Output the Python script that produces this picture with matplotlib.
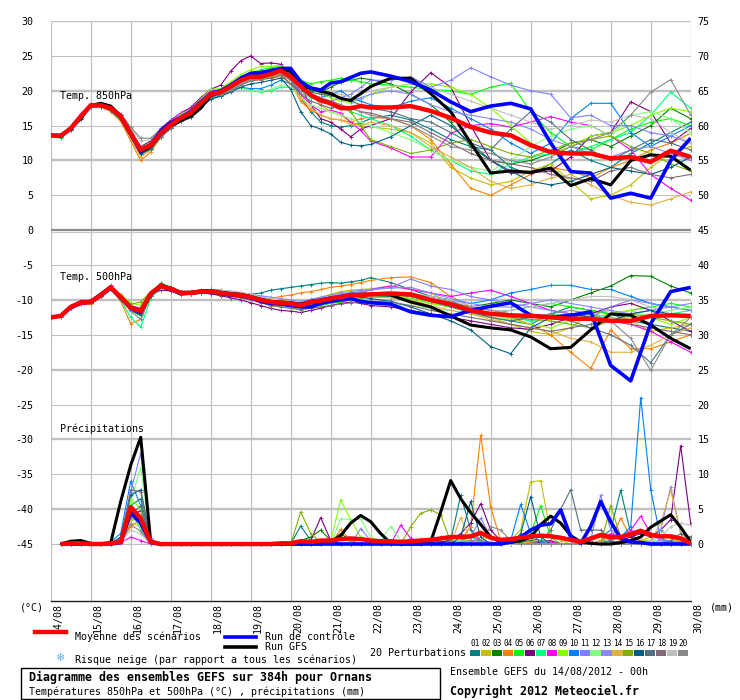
### GEFS ensemble diagram (Meteociel style) for Ornans
import numpy as np
import matplotlib
matplotlib.use("Agg")
import matplotlib.pyplot as plt
from matplotlib.lines import Line2D
from matplotlib.patches import Rectangle
from matplotlib.transforms import ScaledTranslation

### time axis: hours after 14/08 00h
hours_temp = list(range(0, 193, 6)) + list(range(204, 385, 12))
hours_rain = list(range(6, 385, 6))
day_hours = list(range(0, 385, 24))
day_labels = ["14/08", "15/08", "16/08", "17/08", "18/08", "19/08", "20/08", "21/08", "22/08",
              "23/08", "24/08", "25/08", "26/08", "27/08", "28/08", "29/08", "30/08"]
left_ticks = list(range(-45, 31, 5))
right_ticks = list(range(0, 76, 5))
RAIN_OFFSET = 45  # precipitation (mm) drawn on right axis = left axis + 45

pert_colors = ["#008080", "#c0c000", "#008000", "#ff8000", "#00ff00", "#800080", "#00ff80",
               "#ff00ff", "#80ff00", "#0080ff", "#8080ff", "#80ff80", "#8888ff", "#e0b040",
               "#80b000", "#006080", "#507080", "#806878", "#c0c0c0", "#888888"]
pert_names = ["01", "02", "03", "04", "05", "06", "07", "08", "09", "10",
              "11", "12", "13", "14", "15", "16", "17", "18", "19", "20"]

### temperature 850hPa
t850_mean = [13.6,13.5,14.6,16.3,17.9,17.9,17.5,16.3,13.9,11.5,12.2,13.9,15.1,16.1,16.8,18.2,19.5,
             19.8,20.6,21.5,22.0,22.0,22.4,22.9,22.0, 20.6,19.4,18.6,18.2,17.5,17.5,17.8,17.6,
             17.6,17.8,17.1,16.1,14.8,14.0,13.6,12.2,11.2,11.0,11.0,10.3,10.5,9.8,11.4,10.5]
t850_ctrl = [13.6,13.6,14.5,16.2,17.9,18.0,17.5,16.2,13.8,11.3,12.3,14.2,15.4,16.2,17.0,18.4,19.6,
             20.0,20.8,21.8,22.5,22.6,22.9,23.2,23.2, 21.3,20.4,20.1,21.1,21.3,21.9,22.5,22.7,
             22.1,21.3,20.1,18.4,17.0,17.8,18.2,17.4,12.5,8.4,8.2,4.6,5.3,4.6,10.0,13.2]
t850_gfs = [13.6,13.6,14.6,16.0,17.9,18.2,17.8,16.4,14.0,11.2,12.0,13.8,15.0,15.7,16.3,17.5,19.3,
            19.8,20.6,21.5,22.3,22.6,22.8,23.0,22.8, 20.6,20.4,19.9,19.6,18.9,18.6,19.6,20.6,
            21.8,21.8,19.6,17.0,12.5,8.2,8.5,8.3,8.9,6.4,7.4,6.5,10.0,10.8,10.6,8.6]
t850_p01 = [13.6,13.4,14.4,16.0,17.7,17.8,17.3,16.0,13.5,11.0,11.8,13.6,14.8,15.8,16.5,17.8,19.0,
            19.4,20.2,21.0,21.5,21.8,22.0,22.4,21.5, 19.0,17.0,15.5,15.0,14.8,15.0,15.4,16.0,
            16.5,15.8,14.5,13.0,12.0,11.5,9.0,8.0,9.5,11.5,10.0,9.0,11.0,12.5,14.0,15.5]
t850_p02 = [13.6,13.6,14.7,16.4,18.0,18.0,17.6,16.4,14.0,11.7,12.5,14.2,15.4,16.4,17.1,18.5,19.8,
            20.0,20.8,21.6,22.2,22.4,22.6,23.0,22.0, 20.5,19.5,18.0,17.0,16.5,15.5,15.0,14.8,
            14.5,14.0,12.5,9.0,7.5,6.5,7.0,8.5,9.5,7.0,4.5,5.0,6.5,9.0,11.0,12.0]
t850_p03 = [13.6,13.5,14.5,16.2,17.8,17.9,17.4,16.2,13.8,11.3,12.0,13.8,15.0,16.0,16.7,18.1,19.4,
            19.8,20.5,21.4,22.0,22.3,22.8,23.2,22.6, 21.0,20.0,19.8,20.5,21.2,21.5,21.8,21.6,
            21.0,19.5,18.0,15.5,12.0,10.0,9.5,10.0,11.0,12.5,13.0,12.0,13.5,15.0,17.5,16.0]
t850_p04 = [13.6,13.5,14.6,16.2,17.9,17.7,17.0,15.6,12.8,10.0,11.2,13.3,14.6,15.7,16.4,17.8,19.2,
            19.5,20.3,21.2,21.8,21.8,22.0,22.4,21.0, 18.5,17.2,16.5,16.0,15.8,15.5,16.0,16.2,
            16.0,15.0,13.0,9.5,6.0,5.0,6.5,8.0,9.0,8.5,7.5,9.0,10.0,11.5,12.5,13.9]
t850_p05 = [13.6,13.2,14.5,16.3,17.8,17.9,17.6,16.5,14.2,11.8,12.4,14.1,15.3,16.3,17.0,18.6,20.0,
            20.2,21.0,22.0,22.5,23.0,23.3,23.6,22.5, 21.5,21.0,21.3,21.5,21.8,21.6,21.3,21.0,
            20.8,20.5,20.2,20.0,19.5,20.5,21.1,17.0,14.0,12.0,11.5,13.0,14.5,15.5,16.0,15.0]
t850_p06 = [13.6,13.6,14.8,16.6,18.0,18.1,17.7,16.6,14.3,12.0,12.8,14.6,15.8,16.8,17.6,19.0,20.2,
            20.8,22.8,24.3,25.0,23.9,24.0,23.8,22.5, 20.5,18.0,16.0,15.5,14.5,13.4,14.5,15.0,
            16.0,19.8,22.6,20.5,15.0,10.0,8.2,8.2,8.5,10.5,13.5,14.0,18.4,17.0,12.5,14.6]
t850_p07 = [13.6,13.4,14.5,16.1,17.7,17.7,17.2,15.9,13.4,11.0,11.6,13.4,14.6,15.6,16.3,17.6,18.9,
            19.4,20.0,20.5,20.0,19.8,20.0,20.5,20.5, 20.0,19.0,18.5,18.0,17.5,17.0,16.5,16.0,
            15.0,13.5,11.5,10.0,8.5,8.0,9.5,10.5,11.0,11.0,12.0,13.0,14.0,16.5,19.8,17.5]
t850_p08 = [13.6,13.6,14.8,16.7,18.1,18.0,17.6,16.4,13.9,11.3,12.3,14.4,15.7,16.8,17.4,18.8,20.0,
            20.0,21.0,21.8,22.4,22.5,22.5,22.8,21.8, 19.5,18.0,17.0,17.2,16.8,15.5,14.3,12.8,
            11.8,10.5,10.5,13.9,15.0,15.3,14.8,15.5,16.3,15.5,15.0,13.5,11.5,8.0,6.0,4.3]
t850_p09 = [13.6,13.5,14.7,16.5,18.0,17.9,17.5,16.3,14.0,11.8,12.6,14.3,15.6,16.6,17.3,18.8,20.2,
            20.3,21.3,22.3,23.0,23.5,23.5,23.6,22.8, 21.5,20.5,19.5,19.0,18.5,18.3,18.8,19.5,
            20.5,21.0,21.0,20.5,19.5,17.5,15.0,12.5,11.0,12.0,13.5,14.0,15.0,16.5,17.5,17.0]
t850_p10 = [13.6,13.5,14.5,16.2,17.8,17.8,17.3,16.0,13.6,11.2,11.8,13.5,14.7,15.6,16.3,17.6,18.8,
            19.3,20.0,20.5,20.3,20.3,20.8,21.5,21.0, 20.0,19.5,19.0,19.5,20.0,19.0,18.5,18.0,
            17.5,18.5,19.0,17.5,16.0,14.5,12.5,11.0,12.5,16.0,18.2,18.2,14.0,12.0,13.5,15.0]
t850_p11 = [13.6,13.5,14.6,16.4,17.9,17.9,17.5,16.3,14.0,11.6,12.3,14.0,15.2,16.2,16.9,18.3,19.6,
            19.8,20.6,21.6,22.0,22.2,22.6,23.0,22.0, 20.5,19.5,19.0,18.5,19.0,19.5,20.5,21.5,
            21.5,22.0,20.5,21.5,23.3,22.0,20.8,20.0,19.5,16.1,16.5,15.0,15.0,14.0,13.5,12.5]
t850_p12 = [13.6,13.4,14.5,16.2,17.8,17.8,17.4,16.2,13.7,11.2,11.9,13.6,14.8,15.8,16.5,17.8,19.0,
            19.5,20.0,20.4,20.0,19.9,20.2,20.8,20.5, 19.0,18.0,17.5,17.0,16.5,16.0,15.5,15.0,
            14.0,13.0,11.5,10.0,9.0,8.5,10.0,12.0,13.5,14.5,15.0,13.5,16.5,17.0,16.0,14.0]
t850_p13 = [13.6,13.6,14.7,16.5,18.0,18.0,17.6,16.5,14.2,11.9,12.5,14.2,15.4,16.4,17.1,18.5,19.8,
            20.0,20.8,21.5,22.0,22.3,22.8,23.2,22.4, 21.0,20.5,20.0,19.5,19.0,18.5,19.0,19.5,
            20.0,19.5,18.0,17.0,16.5,16.0,15.5,14.5,13.0,12.0,11.0,10.5,11.5,12.0,11.0,10.0]
t850_p14 = [13.6,13.5,14.5,16.2,17.8,17.7,17.2,15.8,13.2,10.5,11.5,13.5,14.8,15.8,16.5,17.9,19.2,
            19.6,20.3,21.0,21.5,21.6,21.8,22.0,21.0, 19.0,17.5,16.5,16.0,15.8,15.2,15.0,15.5,
            15.0,14.0,12.0,10.5,9.0,7.0,6.0,6.5,7.5,8.0,6.5,5.0,4.0,3.6,4.5,5.5]
t850_p15 = [13.6,13.5,14.6,16.3,17.9,17.9,17.5,16.4,14.1,11.9,12.4,14.0,15.2,16.2,16.9,18.3,19.7,
            20.0,20.8,21.6,22.2,22.5,22.8,23.2,22.5, 20.5,19.5,19.0,18.5,18.0,17.0,15.0,13.0,
            12.0,11.0,11.5,12.5,13.0,12.0,11.0,10.5,11.5,12.5,13.0,13.5,12.0,11.0,9.5,8.5]
t850_p16 = [13.6,13.4,14.4,16.0,17.7,17.7,17.2,15.9,13.4,10.9,11.6,13.4,14.6,15.6,16.3,17.6,18.8,
            19.2,19.8,20.5,21.0,21.2,21.5,21.8,20.2, 17.0,15.0,14.5,13.8,12.6,12.2,12.1,12.3,
            13.4,15.0,16.5,15.0,12.5,10.0,8.5,7.0,6.5,7.0,8.0,9.0,8.5,8.0,9.0,10.5]
t850_p17 = [13.6,13.5,14.6,16.3,17.9,17.9,17.5,16.3,14.0,11.8,12.4,14.0,15.2,16.2,16.8,18.2,19.6,
            19.8,20.6,21.4,22.0,22.2,22.4,22.8,22.0, 20.5,19.8,19.5,19.3,19.0,18.5,18.0,17.5,
            17.0,16.0,15.5,14.0,12.5,11.5,14.5,17.0,15.5,13.0,11.5,10.0,11.5,13.0,12.5,11.5]
t850_p18 = [13.6,13.5,14.5,16.1,17.8,17.8,17.3,16.2,14.0,11.6,11.8,13.3,14.6,15.6,16.4,17.8,19.1,
            19.4,20.0,20.8,21.4,21.6,21.8,22.2,21.0, 19.5,18.5,18.0,17.5,17.8,17.5,17.0,16.8,
            16.0,15.5,14.0,12.5,11.0,10.0,9.5,9.0,8.0,7.5,7.0,8.5,9.0,8.0,7.5,8.0]
t850_p19 = [13.6,13.6,14.7,16.4,17.9,18.0,17.6,16.6,14.6,12.8,13.0,14.4,15.5,16.4,17.0,18.4,19.7,
            19.9,20.5,21.2,21.8,22.0,22.4,22.8,22.2, 21.0,20.5,20.0,19.8,19.5,19.0,19.5,20.0,
            20.5,21.0,20.5,19.5,18.5,17.5,16.5,15.5,14.5,15.0,15.8,15.5,16.5,16.0,14.0,12.5]
t850_p20 = [13.6,13.5,14.6,16.3,17.8,17.9,17.6,16.7,14.8,13.2,13.2,14.5,15.4,16.3,17.0,18.3,19.6,
            19.5,20.3,21.0,21.6,21.8,22.2,22.5,21.5, 20.0,19.5,19.0,18.5,18.0,17.5,17.0,16.5,
            16.0,15.0,13.5,12.0,11.5,11.0,10.0,9.5,10.5,12.0,13.0,14.0,16.5,19.8,21.6,16.5]

### temperature 500hPa
t500_mean = [-12.5,-12.3,-11.0,-10.4,-10.3,-9.3,-8.2,-9.6,-11.1,-11.6,-9.1,-8.0,-8.4,-9.0,-9.0,-8.8,-8.8,
             -9.0,-9.2,-9.3,-9.6,-10.0,-10.3,-10.4,-10.5,-10.8,-10.3,-10.1,-9.8,-9.6,-9.3,-9.3,-9.2,
             -9.1,-9.2,-10.0,-10.6,-11.5,-12.0,-12.2,-12.3,-12.5,-12.7,-12.7,-13.0,-13.0,-12.3,-12.2,-12.3]
t500_ctrl = [-12.5,-12.3,-11.1,-10.5,-10.3,-9.4,-8.3,-9.7,-11.2,-11.8,-9.2,-8.0,-8.5,-9.1,-9.0,-8.9,-8.9,
             -9.1,-9.3,-9.4,-9.7,-10.2,-10.5,-10.6,-10.8,-11.0,-11.0,-10.5,-10.2,-10.0,-9.8,-10.2,-10.4,
             -10.6,-11.7,-12.2,-12.4,-11.5,-10.9,-10.4,-12.2,-12.5,-12.2,-11.7,-19.4,-21.6,-13.4,-8.8,-8.2]
t500_gfs = [-12.5,-12.3,-11.0,-10.3,-10.2,-9.2,-8.1,-9.5,-11.0,-11.5,-9.0,-7.9,-8.3,-8.9,-8.9,-8.7,-8.7,
            -8.9,-9.1,-9.2,-9.5,-9.9,-10.2,-10.3,-10.4,-10.6,-10.2,-10.0,-9.7,-9.5,-9.2,-9.2,-9.2,
            -9.3,-10.3,-11.0,-12.3,-13.6,-14.0,-14.3,-15.3,-17.0,-16.8,-14.3,-12.0,-12.2,-13.6,-15.5,-17.0]
t500_p01 = [-12.5,-12.2,-10.8,-10.2,-10.2,-9.2,-8.0,-9.4,-11.0,-11.4,-8.9,-7.9,-8.3,-8.8,-8.8,-8.6,-8.5,
            -8.6,-8.8,-9.0,-9.2,-9.0,-8.6,-8.4,-8.2,-8.0,-7.8,-7.6,-7.5,-7.6,-7.4,-7.2,-6.8,
            -7.5,-8.5,-9.5,-10.0,-11.5,-12.5,-13.0,-13.5,-12.0,-11.0,-11.5,-12.0,-13.0,-13.5,-14.0,-14.5]
t500_p02 = [-12.5,-12.3,-11.1,-10.5,-10.4,-9.5,-8.3,-9.8,-11.4,-12.0,-9.4,-8.2,-8.6,-9.2,-9.1,-8.9,-8.9,
            -9.2,-9.3,-9.4,-9.6,-9.8,-10.0,-10.0,-10.2,-10.5,-10.0,-9.6,-9.2,-8.8,-8.6,-8.5,-8.4,
            -8.0,-8.5,-9.0,-10.5,-12.0,-12.5,-13.5,-14.5,-15.0,-14.0,-12.0,-11.5,-13.0,-14.5,-14.0,-13.5]
t500_p03 = [-12.4,-12.2,-10.9,-10.3,-10.2,-9.2,-8.1,-9.5,-11.0,-11.3,-9.0,-7.6,-8.2,-8.9,-8.9,-8.7,-8.7,
            -8.9,-9.1,-9.3,-9.5,-9.9,-10.1,-10.2,-10.4,-10.6,-10.2,-10.0,-9.8,-9.5,-9.2,-9.0,-9.0,
            -9.2,-9.5,-10.0,-10.5,-11.0,-10.5,-10.0,-10.5,-11.0,-10.0,-9.0,-8.0,-6.5,-6.6,-8.0,-9.0]
t500_p04 = [-12.5,-12.3,-11.2,-10.6,-10.6,-9.6,-8.4,-10.2,-13.4,-12.8,-9.5,-8.3,-8.7,-9.3,-9.2,-9.0,-9.0,
            -9.0,-9.1,-9.2,-9.4,-9.6,-9.8,-9.5,-9.3,-9.0,-8.8,-8.5,-8.2,-8.0,-7.8,-7.5,-7.2,
            -6.8,-6.7,-7.5,-9.5,-11.0,-12.0,-12.5,-13.5,-15.0,-17.5,-19.8,-14.3,-17.0,-17.0,-16.0,-15.0]
t500_p05 = [-12.5,-12.3,-11.0,-10.4,-10.3,-9.3,-8.3,-9.8,-11.5,-12.0,-9.2,-8.0,-8.5,-9.0,-9.1,-8.9,-8.9,
            -9.1,-9.4,-9.6,-9.9,-10.3,-10.6,-10.7,-10.9,-11.2,-11.0,-10.8,-10.5,-10.3,-10.0,-9.8,-9.6,
            -9.5,-9.8,-10.5,-11.0,-11.8,-12.0,-11.5,-11.0,-10.5,-11.0,-11.5,-12.0,-11.5,-11.0,-10.5,-11.0]
t500_p06 = [-12.5,-12.4,-11.1,-10.5,-10.4,-9.4,-8.2,-9.7,-11.2,-11.9,-9.3,-8.6,-8.7,-9.1,-9.2,-9.0,-9.1,
            -9.4,-9.7,-10.0,-10.4,-10.8,-11.2,-11.5,-11.6,-11.8,-11.5,-11.2,-10.8,-10.5,-10.3,-10.5,-10.8,
            -11.0,-11.5,-12.0,-12.5,-13.0,-13.5,-14.0,-14.2,-13.5,-12.5,-12.0,-11.0,-10.5,-11.5,-13.0,-14.5]
t500_p07 = [-12.5,-12.3,-11.0,-10.4,-10.4,-9.4,-8.4,-10.0,-12.5,-13.9,-9.8,-8.1,-8.5,-9.0,-9.0,-8.8,-8.8,
            -9.0,-9.2,-9.4,-9.8,-10.2,-10.5,-10.6,-10.7,-10.8,-10.5,-10.3,-10.0,-9.8,-9.6,-9.5,-9.4,
            -9.5,-9.8,-10.2,-11.0,-11.5,-12.0,-12.5,-13.0,-12.5,-12.0,-12.0,-12.5,-13.0,-12.5,-12.0,-11.5]
t500_p08 = [-12.5,-12.2,-10.8,-10.1,-10.0,-9.0,-7.9,-9.3,-10.8,-11.2,-8.9,-7.8,-8.3,-8.8,-8.9,-8.7,-8.7,
            -8.8,-9.0,-9.2,-9.5,-9.9,-10.2,-10.3,-10.5,-10.8,-10.6,-10.4,-10.0,-9.8,-9.5,-9.0,-8.5,
            -8.0,-8.5,-9.0,-9.5,-9.0,-8.6,-9.5,-10.5,-11.5,-12.0,-12.5,-13.0,-13.5,-14.5,-16.0,-17.5]
t500_p09 = [-12.5,-12.3,-11.0,-10.3,-10.2,-9.2,-8.1,-9.2,-10.4,-10.8,-8.8,-7.8,-8.2,-8.8,-8.8,-8.6,-8.6,
            -8.8,-9.0,-9.2,-9.5,-9.8,-10.1,-10.3,-10.4,-10.6,-10.3,-10.0,-9.7,-9.5,-9.2,-9.0,-9.1,
            -9.3,-9.8,-10.5,-11.0,-11.5,-12.0,-12.8,-13.5,-14.0,-13.0,-12.5,-12.0,-11.5,-12.5,-13.5,-12.5]
t500_p10 = [-12.5,-12.3,-11.0,-10.4,-10.3,-9.3,-8.2,-9.7,-11.3,-11.8,-9.1,-8.1,-8.4,-9.0,-9.0,-8.8,-8.9,
            -9.0,-9.2,-9.3,-9.6,-10.0,-10.4,-10.5,-10.6,-10.8,-10.5,-10.0,-9.8,-9.6,-9.4,-9.3,-9.2,
            -9.0,-9.2,-9.5,-10.0,-10.5,-10.0,-9.0,-8.5,-7.9,-7.9,-8.5,-8.5,-9.5,-10.5,-11.0,-11.5]
t500_p11 = [-12.5,-12.3,-11.1,-10.4,-10.3,-9.3,-8.2,-9.6,-11.2,-11.7,-9.2,-8.0,-8.4,-9.1,-9.0,-8.8,-8.8,
            -8.9,-9.1,-9.2,-9.5,-9.8,-10.0,-10.2,-10.3,-10.5,-10.0,-9.8,-9.5,-9.2,-9.0,-8.8,-8.6,
            -8.2,-7.0,-8.0,-8.5,-9.5,-10.0,-10.5,-11.0,-11.5,-12.0,-12.5,-11.0,-10.0,-10.5,-11.0,-11.5]
t500_p12 = [-12.5,-12.3,-11.0,-10.4,-10.4,-9.4,-8.3,-9.8,-11.5,-12.4,-9.3,-8.1,-8.5,-9.1,-9.1,-8.9,-8.9,
            -9.2,-9.4,-9.6,-9.9,-10.4,-10.8,-11.0,-11.2,-11.4,-11.0,-10.6,-10.3,-10.0,-9.8,-10.0,-10.3,
            -10.6,-10.8,-11.2,-11.5,-12.0,-12.5,-12.8,-12.5,-12.0,-12.2,-12.5,-12.8,-12.5,-12.0,-11.5,-11.0]
t500_p13 = [-12.5,-12.2,-10.9,-10.3,-10.2,-9.2,-8.0,-9.5,-11.0,-11.4,-9.0,-7.9,-8.3,-8.9,-8.9,-8.7,-8.7,
            -8.8,-8.9,-9.0,-9.2,-9.4,-9.6,-9.8,-10.0,-10.2,-9.9,-9.6,-9.3,-9.0,-8.8,-8.6,-8.5,
            -8.3,-8.2,-9.0,-9.8,-10.5,-11.0,-11.0,-10.5,-10.0,-10.5,-11.0,-11.5,-12.0,-11.5,-11.0,-10.5]
t500_p14 = [-12.5,-12.3,-11.0,-10.5,-10.4,-9.4,-8.3,-9.7,-11.3,-12.2,-9.3,-8.1,-8.5,-9.0,-9.0,-8.9,-8.9,
            -9.1,-9.3,-9.5,-9.8,-10.2,-10.5,-10.7,-10.9,-11.1,-10.8,-10.5,-10.2,-10.0,-9.8,-9.7,-9.6,
            -9.7,-10.0,-10.8,-11.5,-12.0,-12.8,-13.5,-14.0,-14.5,-15.5,-16.0,-17.5,-17.5,-16.5,-15.0,-14.0]
t500_p15 = [-12.5,-12.3,-11.0,-10.4,-10.3,-9.3,-8.1,-9.4,-10.6,-10.3,-8.8,-7.9,-8.3,-8.9,-8.9,-8.7,-8.7,
            -8.9,-9.1,-9.2,-9.5,-9.9,-10.2,-10.3,-10.5,-10.7,-10.4,-10.1,-9.8,-9.6,-9.4,-9.2,-9.1,
            -9.0,-9.3,-10.0,-10.8,-11.5,-12.0,-12.5,-12.8,-13.0,-13.5,-14.0,-13.0,-12.0,-12.5,-13.0,-13.5]
t500_p16 = [-12.5,-12.3,-11.1,-10.5,-10.4,-9.4,-8.3,-9.8,-11.5,-12.2,-9.4,-8.0,-8.5,-9.1,-9.1,-8.9,-8.9,
            -9.0,-9.2,-9.4,-9.6,-10.0,-10.3,-10.4,-10.5,-10.6,-10.3,-10.0,-9.8,-9.6,-9.5,-9.6,-9.8,
            -10.2,-11.0,-12.0,-13.0,-14.3,-16.7,-17.7,-14.0,-12.5,-12.0,-12.5,-13.0,-12.0,-11.5,-12.0,-12.5]
t500_p17 = [-12.5,-12.3,-11.0,-10.4,-10.3,-9.3,-8.2,-9.6,-11.1,-11.6,-9.1,-8.0,-8.4,-9.0,-9.0,-8.8,-8.8,
            -9.0,-9.2,-9.4,-9.7,-10.1,-10.4,-10.5,-10.6,-10.7,-10.4,-10.2,-10.0,-9.8,-9.6,-9.4,-9.3,
            -9.2,-9.5,-10.2,-11.0,-11.8,-12.5,-13.0,-12.5,-12.0,-13.0,-14.0,-15.0,-16.5,-19.0,-15.0,-13.5]
t500_p18 = [-12.5,-12.3,-11.2,-10.6,-10.5,-9.5,-8.4,-9.8,-11.3,-11.9,-9.4,-8.2,-8.6,-9.2,-9.2,-9.0,-9.0,
            -9.3,-9.5,-9.7,-10.0,-10.4,-10.8,-11.0,-11.2,-11.4,-11.2,-11.0,-10.8,-10.6,-10.4,-10.3,-10.2,
            -10.3,-10.8,-11.5,-12.0,-12.5,-13.0,-13.5,-14.0,-14.5,-14.0,-13.5,-13.0,-13.5,-14.0,-14.5,-15.0]
t500_p19 = [-12.5,-12.3,-11.0,-10.4,-10.3,-9.3,-8.2,-9.6,-11.0,-11.5,-9.0,-8.0,-8.4,-9.0,-8.9,-8.7,-8.7,
            -8.6,-8.7,-8.9,-9.2,-9.6,-9.9,-10.1,-10.3,-10.5,-10.2,-9.9,-9.6,-9.4,-9.2,-9.1,-9.0,
            -8.8,-9.0,-9.5,-10.0,-10.8,-11.5,-11.5,-11.0,-10.5,-10.0,-9.5,-9.5,-10.0,-11.0,-12.0,-12.5]
t500_p20 = [-12.5,-12.3,-11.0,-10.4,-10.3,-9.3,-8.2,-9.7,-11.6,-12.8,-9.3,-8.0,-8.5,-9.1,-9.0,-8.8,-8.8,
            -8.9,-9.1,-9.3,-9.6,-10.0,-10.3,-10.4,-10.5,-10.7,-10.4,-10.1,-9.8,-9.5,-9.3,-9.2,-9.1,
            -9.0,-9.3,-9.8,-10.3,-11.0,-11.5,-12.0,-12.5,-12.0,-11.5,-12.0,-13.0,-15.5,-20.1,-15.0,-12.5]

### precipitation (mm per 6h), from +6h to +384h
rr_mean = [0,0.1,0.1,0,0,0.1,0.3,5.3,3.7,0.3,0,0,
           0,0,0,0,0,0,0,0,0,0,0.1,0.1,0.4,
           0.3,0.5,0.5,0.7,0.8,0.7,0.5,0.4,0.4,0.3,0.4,0.5,0.6,
           0.8,1.0,1.0,1.1,1.6,0.9,0.6,0.7,0.9,1.1,1.2,1.1,0.9,
           0.6,0.3,0.8,1.3,1.0,1.0,1.4,1.9,1.3,1.1,1.1,0.8,0.1]
rr_ctrl = [0,0,0,0,0,0,0.2,4.5,3.0,0.2,0,0,
           0,0,0,0,0,0,0,0,0,0,0,0,0,
           0,0,0,0,0,0,0,0,0,0,0,0,0,
           0,0,0,0,0,0,0,0.3,1.0,2.0,2.7,2.9,4.9,
           1.0,0.1,2.5,6.1,3.2,0.8,0.3,0.2,0,0,0,0,0]
rr_gfs = [0,0.4,0.5,0.1,0,0.2,6.1,11.3,15.3,0.3,0,0,
          0,0,0,0,0,0,0,0,0,0,0,0,0,
          0,0,0.3,1.2,3.0,4.1,3.2,1.5,0.1,0,0,0,0.3,
          4.6,9.1,6.5,4.5,2.8,1.0,0.3,0.2,0.5,1.0,2.8,4.0,3.0,
          1.2,0.3,0.1,0,0,0.2,0.5,1.0,2.4,3.3,4.2,2.4,0.3]
rr_p01 = [0,0,0,0,0,0.1,0.8,5.5,6.5,0.5,0,0,
          0,0,0,0,0,0,0,0,0,0,0,0,2.6,
          0.5,0,0,0,0,0,0,0,0,0.3,0,0,0.5,
          1.0,0.5,7.0,2.0,0.5,0,0,0,0.3,0.8,0.5,0.3,0,
          0,0,0.5,1.0,2.0,7.7,1.5,0.3,0,0,0.5,0.3,0]
rr_p02 = [0,0,0,0,0,0,0.5,3.5,4.0,0.3,0,0,
          0,0,0,0,0,0,0,0,0,0,0,0,0,
          0,0,0,0,0,0,0,0,0,0,0,0.5,0.3,
          0,0,0.3,0.5,0,0,0.5,0.5,2.0,8.9,9.1,1.5,0.5,
          0,0,0.5,1.5,0.5,0,0,0.5,1.0,2.0,0.8,0.3,0]
rr_p03 = [0,0,0.1,0,0,0.1,0.6,4.5,3.0,0.2,0,0,
          0,0,0,0,0,0,0,0,0,0,0,0,0.5,
          1.0,2.0,0.5,1.5,0.5,0,0,0,0,0,0,0.3,0.2,
          0.3,0.5,0.2,0,0,0,0,0,0.3,0.5,0.3,0,0,
          0,0,0,0.5,0.3,0.2,0.5,0.3,0,0.3,0,0,0]
rr_p04 = [0,0,0,0,0,0,0.3,2.5,3.5,0,0,0,
          0,0,0,0,0,0,0,0,0,0,0,0,0,
          0,0,0,2.1,0.5,0,0,0,0,0,0,0,0,
          0,0,0.5,2.5,15.6,5.3,0.5,0,0,0.3,0.5,0.2,0,
          0,0,0.5,1.0,0.5,3.7,1.0,0.5,0.3,0,0,0.5,1.0]
rr_p05 = [0,0,0,0,0,0,0.9,6.0,2.5,0.3,0,0,
          0,0,0,0,0,0,0,0,0,0,0,0,0.3,
          0.5,0.3,0,0,0,0,0,0,0,0.3,0,0,0,
          0,0.2,0.5,0.3,0,0,0,0,0.5,1.5,5.5,1.0,0,
          0,0,0.3,0,0.5,0,0,0.3,0.5,0,0,0,0]
rr_p06 = [0,0,0,0,0,0,0.4,4.0,4.8,0.2,0,0,
          0,0,0,0,0,0,0,0,0,0,0,0,0.3,
          0.5,3.8,0.5,0,0,0,0,0,0,0,0,0,0.3,
          0.3,0.5,1.5,3.0,5.8,2.0,0.5,0,0,0,0.3,0.5,0,
          0,0,0,0,0,0.5,1.0,1.5,1.0,2.0,3.5,14.1,2.9]
rr_p07 = [0,0,0,0,0,0,0.7,5.0,2.0,0.1,0,0,
          0,0,0,0,0,0,0,0,0,0,0,0,0,
          0,0,0.5,1.0,0.3,0,0,0,0,0,0,0,0,
          0,0,0.5,1.0,0.3,0,0,0,0,0,0.5,0.3,0,
          0,0,0,0,0,0.5,0.3,0,0,0.5,0.3,0,0.5]
rr_p08 = [0,0,0,0,0,0,0.2,1.0,0.5,0,0,0,
          0,0,0,0,0,0,0,0,0,0,0,0,0,
          0,0,0,0,0,0,0,0,0,2.7,0.8,0.3,0,
          0,0,0.5,1.2,0.5,0,0,0,0,0,0,0.3,0,
          0,0,0,0.5,1.5,1.0,2.0,4.0,1.5,0.5,0,0,0]
rr_p09 = [0,0,0,0,0,0,0.8,6.5,5.0,0.3,0,0,
          0,0,0,0,0,0,0,0,0,0,0,0,0,
          0,0,0.5,6.3,3.5,1.0,0.3,0,0,0,0,0,0,
          0,0,0,0,0.5,1.0,0.3,0,0,0,0,0,0,
          0,0,0,0,0,0,0.5,0,0,0,0.5,0,0]
rr_p10 = [0,0,0,0,0,0.3,1.5,9.0,5.5,0.5,0,0,
          0,0,0,0,0,0,0,0,0,0,0,0,0,
          0,0,0,0,0,0,0,0,0,0,0,0,0,
          0,0,0,0,0,0,0,0.5,5.7,1.5,0.3,0,0,
          0,0,0,0,0.5,1.0,2.5,21.0,7.8,0.8,0.3,0,0]
rr_p11 = [0,0,0,0,0,0,0.8,7.5,13.0,0.8,0,0,
          0,0,0,0,0,0,0,0,0,0,0,0,0,
          0,0,0,0,0,2.2,0.5,0,0,0,0,0,0,
          0,0,0.5,1.0,3.7,1.0,0,0,0,0,0.5,0,0,
          0,0,0.5,7.0,2.0,0.5,0,0,0.3,0.5,0.3,0,0]
rr_p12 = [0,0,0,0,0,0,0.5,6.0,11.0,0.5,0,0,
          0,0,0,0,0,0,0,0,0,0,0,0,0,
          0,0,0,3.6,3.5,3.6,1.0,0.5,2.5,0.5,0,0,0,
          0,0,0.5,0.3,0,0,0,0,0,0,0,0,0,
          0,0,0,0,0,0,0,0,0.5,0.3,0,0,0]
rr_p13 = [0,0,0,0,0,0,0.6,5.0,3.5,0.2,0,0,
          0,0,0,0,0,0,0,0,0,0,0,0,0,
          0,0,0,0,0,0,0,0,0,0,0,0,0,
          0,0,0,0,0.5,0.3,0,0,0,0,0,0,0,
          0,0,0,0,0,0,0,0,0.5,2.0,8.2,1.5,0]
rr_p14 = [0,0,0,0,0,0,0.4,3.0,2.5,0.1,0,0,
          0,0,0,0,0,0,0,0,0,0,0,0,0,
          0,0,0,0,0,0,0,0,0,0,0,0,0,
          0,0,3.8,0.5,0,0,0,0,0,0,0,0,0,
          0,0,0,0.5,1.0,0.5,0,0,0.5,3.0,7.7,1.5,0.3]
rr_p15 = [0,0,0,0,0,0,0.5,3.8,3.0,0.2,0,0,
          0,0,0,0,0,0,0,0,0,0,0,0,4.6,
          1.5,0.3,0,0,0,0,0,0,0,0,2.5,4.4,4.9,
          4.2,0.3,0,0,0,0,0,0,0,0,0,0,0,
          0,0,0,0,5.5,1.0,0,0,0,0,0,0,0]
rr_p16 = [0,0,0,0,0,0.1,1.0,7.0,7.8,0.6,0,0,
          0,0,0,0,0,0,0,0,0,0,0,0,0,
          0,0,0,0,0,0,0,0,0,0,0,0,0,
          0,0,1.0,6.1,1.0,0,0,0,1.5,6.8,1.0,0,0,
          0,0,0,0,0,0,0,0,0,0,0,0,0]
rr_p17 = [0,0,0,0,0,0,0.6,4.2,5.5,0.3,0,0,
          0,0,0,0,0,0,0,0,0,0,0,0,0,
          0,0,0,0,0,0,0,0,0,0,0,0,0,
          0,0,0,0,0,0,0,0,0,0,0.5,2.0,5.0,
          7.8,2.0,2.0,2.0,0.5,0,0,0,0,0,0.5,1.5,1.0]
rr_p18 = [0,0,0,0,0,0,0.3,7.8,7.5,0.4,0,0,
          0,0,0,0,0,0,0,0,0,0,0,0,0,
          0,0,0,0,0,0,0,0,0,0.5,0,0,0,
          0,0,0,0,0,0,0,0,0,0,0,0,0,
          0,0,0,0,0,0,0,0,0,0,0,0,0]
rr_p19 = [0,0,0,0,0,0,0.3,2.0,1.5,0,0,0,
          0,0,0,0,0,0,0,0,0,0,0,0,0,
          0,0,0,0,0,0,0,0,0,0,0,0,0,
          0,0,0,0,0,0,0,0,0,0,0,0,0,
          0,0,0,0,0,0,0,0,0.5,1.0,2.5,3.0,2.7]
rr_p20 = [0,0,0,0,0,0,0.4,2.8,1.8,0.1,0,0,
          0,0,0,0,0,0,0,0,0,0,0,0,0,
          0,0,0,0,0,0,0,0,0,0,0,0.7,0.5,
          0,0,0.3,0.5,0.5,2.5,2.0,0.5,0,0,0,0,0,
          0,0,0,0,0,0,0,0,0,0,0,0,0]

t850_perts = [t850_p01, t850_p02, t850_p03, t850_p04, t850_p05, t850_p06, t850_p07, t850_p08, t850_p09, t850_p10,
              t850_p11, t850_p12, t850_p13, t850_p14, t850_p15, t850_p16, t850_p17, t850_p18, t850_p19, t850_p20]
t500_perts = [t500_p01, t500_p02, t500_p03, t500_p04, t500_p05, t500_p06, t500_p07, t500_p08, t500_p09, t500_p10,
              t500_p11, t500_p12, t500_p13, t500_p14, t500_p15, t500_p16, t500_p17, t500_p18, t500_p19, t500_p20]
rr_perts = [rr_p01, rr_p02, rr_p03, rr_p04, rr_p05, rr_p06, rr_p07, rr_p08, rr_p09, rr_p10,
            rr_p11, rr_p12, rr_p13, rr_p14, rr_p15, rr_p16, rr_p17, rr_p18, rr_p19, rr_p20]

### figure, pixel helpers
W, H = 740, 700
MONO = "DejaVu Sans Mono"
plt.rcParams["font.family"] = [MONO, "DejaVu Sans"]

def fx(px):
    return px / W

def fy(py):
    return 1 - py / H

fig = plt.figure(figsize=(W / 100, H / 100), dpi=100)
ax = fig.add_axes([fx(50.7), fy(600.5), (690.7 - 50.7) / W, (600.5 - 21) / H])
ax.set_xlim(0, 384)
ax.set_ylim(-53.1, 30)

# grid
for h in day_hours:
    ax.axvline(h, color="#c0c0c0", lw=0.9, zorder=0)
for v in left_ticks:
    if v == 0:
        ax.axhline(v, color="#8c8c8c", lw=1.6, zorder=0.5)
        ax.axhline(v - 0.25, color="#c8c8c8", lw=0.8, zorder=0.4)
    elif v % 10 == 0:
        ax.axhline(v, color="#c0c0c0", lw=1.7, zorder=0)
    else:
        ax.axhline(v, color="#c0c0c0", lw=0.8, zorder=0)

for sp in ["top", "left", "right"]:
    ax.spines[sp].set_visible(False)
ax.spines["bottom"].set_color("#202020")
ax.spines["bottom"].set_linewidth(1.0)

# left axis ticks
ax.set_yticks(left_ticks)
ax.set_yticklabels([str(v) for v in left_ticks])
ax.tick_params(axis="y", length=0, pad=12.5, labelsize=7.2)

# right axis (precipitation mm)
sec = ax.secondary_yaxis("right", functions=(lambda v: v + RAIN_OFFSET, lambda v: v - RAIN_OFFSET))
sec.set_yticks(right_ticks)
sec.set_yticklabels([str(v) for v in right_ticks])
sec.tick_params(length=0, pad=5, labelsize=7.2)
sec.spines["right"].set_visible(False)

# date ticks
ax.set_xticks(day_hours)
ax.set_xticklabels(day_labels, rotation=90, va="top", ha="center")
ax.tick_params(axis="x", length=0, pad=1.5, labelsize=7.2)
shift = ScaledTranslation(7.5 / 100, 0, fig.dpi_scale_trans)
for lab in ax.get_xticklabels():
    lab.set_transform(lab.get_transform() + shift)

### spaghetti
pkw = dict(lw=0.8, marker="+", ms=2.6, mew=0.6, zorder=2)
for s850, s500, srr, col in zip(t850_perts, t500_perts, rr_perts, pert_colors):
    ax.plot(hours_temp, s850, color=col, **pkw)
    ax.plot(hours_temp, s500, color=col, **pkw)
    ax.plot(hours_rain, np.array(srr) - RAIN_OFFSET, color=col, **pkw)

for s850, s500, srr, col, lw, z in [(t850_gfs, t500_gfs, rr_gfs, "#000000", 2.2, 3),
                                     (t850_ctrl, t500_ctrl, rr_ctrl, "#0000ff", 2.6, 4),
                                     (t850_mean, t500_mean, rr_mean, "#ff0000", 3.2, 5)]:
    ax.plot(hours_temp, s850, color=col, lw=lw, zorder=z, solid_capstyle="butt")
    ax.plot(hours_temp, s500, color=col, lw=lw, zorder=z, solid_capstyle="butt")
    ax.plot(hours_rain, np.array(srr) - RAIN_OFFSET, color=col, lw=lw, zorder=z, solid_capstyle="butt")

### panel labels
for txt, py in [("Temp. 850hPa", 96), ("Temp. 500hPa", 277), ("Précipitations", 429)]:
    fig.text(fx(60), fy(py), txt, fontsize=7.2, va="center", ha="left")
fig.text(fx(20), fy(607), "(°C)", fontsize=7.2, va="center", ha="left")
fig.text(fx(710), fy(607), "(mm)", fontsize=7.2, va="center", ha="left")

### legend
fig.add_artist(Line2D([fx(35), fx(66)], [fy(632), fy(632)], color="#ff0000", lw=3.2))
fig.text(fx(75), fy(637), "Moyenne des scénarios", fontsize=7.2, va="center")
fig.add_artist(Line2D([fx(225), fx(256)], [fy(637), fy(637)], color="#0000ff", lw=2.6))
fig.text(fx(265), fy(637), "Run de contrôle", fontsize=7.2, va="center")
fig.add_artist(Line2D([fx(225), fx(256)], [fy(647), fy(647)], color="#000000", lw=2.6))
fig.text(fx(265), fy(647), "Run GFS", fontsize=7.2, va="center")
fig.text(fx(60), fy(658), "\u2744", fontsize=8, color="#5aaee0", ha="center", va="center",
         family=["DejaVu Sans"])
fig.text(fx(75), fy(659.5), "Risque neige (par rapport a tous les scénarios)", fontsize=7.2, va="center")

fig.add_artist(Rectangle((fx(20.5), fy(699)), (440 - 20.5) / W, (699 - 667.5) / H,
                         fill=False, ec="#000000", lw=1.0))
fig.text(fx(29), fy(677.5), "Diagramme des ensembles GEFS sur 384h pour Ornans",
         fontsize=8.4, fontweight="bold", va="center")
fig.text(fx(29), fy(691.5), "Températures 850hPa et 500hPa (°C) , précipitations (mm)",
         fontsize=7.2, va="center")

fig.text(fx(370), fy(652.5), "20 Perturbations", fontsize=7.2, va="center")
for i, (name, col) in enumerate(zip(pert_names, pert_colors)):
    x0 = 470 + i * 10.95
    fig.add_artist(Rectangle((fx(x0), fy(656)), 10.2 / W, 6 / H, color=col, lw=0))
    fig.text(fx(x0 + 5.1), fy(643.5), name, fontsize=5.6, ha="center", va="center")

fig.text(fx(450), fy(672), "Ensemble GEFS du 14/08/2012 - 00h", fontsize=7.2, va="center")
fig.text(fx(450), fy(691), "Copyright 2012 Meteociel.fr", fontsize=8.4, fontweight="bold", va="center")

fig.savefig("out.png", dpi=100)
